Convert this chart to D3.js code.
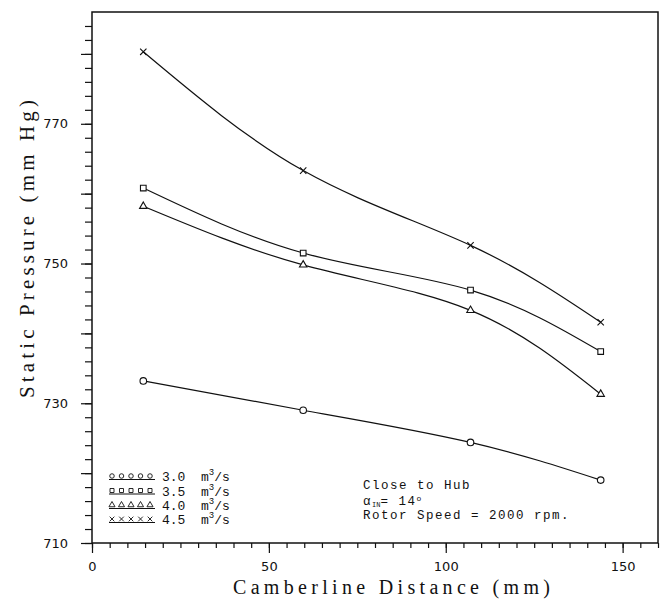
<!DOCTYPE html>
<html>
<head>
<meta charset="utf-8">
<script src="https://cdn.jsdelivr.net/npm/d3@7"></script>
<style>
body { margin: 0; background: #fff; }
</style>
</head>
<body>
<svg id="chart" width="667" height="600"></svg>
<script>
"use strict"

//
// data
//
var distance = [14.5, 59.7, 107.0, 143.8];
var flowLabels = ["3.0", "3.5", "4.0", "4.5"];
var flow30 = [733.2, 729.0, 724.4, 719.0];
var flow35 = [760.8, 751.5, 746.2, 737.4];
var flow40 = [758.2, 749.8, 743.3, 731.3];
var flow45 = [780.3, 763.3, 752.6, 741.6];
var xTickLabels = [0, 50, 100, 150];
var yTickLabels = [710, 730, 750, 770];

var series = [flow30, flow35, flow40, flow45];
var symbolTypes = [d3.symbolCircle, d3.symbolSquare, d3.symbolTriangle, d3.symbolTimes || d3.symbolCross];
var symbolSizes = [34, 32, 24, 28];

//
// layout
//
var plotLeft = 92, plotRight = 658, plotTop = 12, plotBottom = 543;
var svg = d3.select("#chart");

var x = d3.scaleLinear().domain([0, 160]).range([plotLeft, plotRight]);
var y = d3.scaleLinear().domain([710, 786]).range([plotBottom, plotTop]);

var tickFont = "DejaVu Sans";
var textFont = "Liberation Mono";

//
// axes
//
var xMinor = svg.append("g")
	.attr("transform", "translate(0," + plotBottom + ")")
	.call(d3.axisBottom(x).tickValues(d3.range(0, 161, 5)).tickSize(5).tickFormat(""))
	;
var xMajor = svg.append("g")
	.attr("transform", "translate(0," + plotBottom + ")")
	.call(d3.axisBottom(x).tickValues(xTickLabels).tickSize(10).tickPadding(9).tickFormat(d3.format("d")))
	;
var yMinor = svg.append("g")
	.attr("transform", "translate(" + plotLeft + ",0)")
	.call(d3.axisLeft(y).tickValues(d3.range(710, 785, 2)).tickSize(7).tickFormat(""))
	;
var yMajor = svg.append("g")
	.attr("transform", "translate(" + plotLeft + ",0)")
	.call(d3.axisLeft(y).tickValues(d3.range(710, 785, 10)).tickSize(11).tickPadding(13)
		.tickFormat(function(d) { return yTickLabels.indexOf(d) >= 0 ? d : ""; }))
	;
[xMinor, xMajor, yMinor, yMajor].forEach(function(g) {
	g.select(".domain").remove();
	g.selectAll("line").attr("stroke", "#111").attr("stroke-width", 1.2);
	g.selectAll("text")
		.attr("font-family", tickFont)
		.attr("font-size", 13)
		.attr("fill", "#111")
		;
});

// frame
svg.append("rect")
	.attr("x", plotLeft)
	.attr("y", plotTop)
	.attr("width", plotRight - plotLeft)
	.attr("height", plotBottom - plotTop)
	.attr("fill", "none")
	.attr("stroke", "#111")
	.attr("stroke-width", 1.5)
	;

//
// axis titles
//
svg.append("text")
	.attr("x", 233)
	.attr("y", 594)
	.attr("font-family", "Liberation Serif")
	.attr("font-size", 20)
	.attr("textLength", 317)
	.attr("lengthAdjust", "spacing")
	.attr("fill", "#111")
	.text("Camberline Distance (mm)")
	;
svg.append("text")
	.attr("transform", "translate(34,398) rotate(-90)")
	.attr("font-family", "Liberation Serif")
	.attr("font-size", 21)
	.attr("textLength", 298)
	.attr("lengthAdjust", "spacing")
	.attr("fill", "#111")
	.text("Static Pressure (mm Hg)")
	;

//
// curves and markers
//
var line = d3.line()
	.x(function(d, i) { return x(distance[i]); })
	.y(function(d) { return y(d); })
	.curve(d3.curveNatural)
	;
series.forEach(function(values, s) {
	svg.append("path")
		.attr("d", line(values))
		.attr("fill", "none")
		.attr("stroke", "#111")
		.attr("stroke-width", 1.2)
		;
	svg.selectAll(".m" + s)
		.data(values)
		.enter().append("path")
		.attr("class", "m" + s)
		.attr("transform", function(d, i) { return "translate(" + x(distance[i]) + "," + y(d) + ")"; })
		.attr("d", d3.symbol().type(symbolTypes[s]).size(symbolSizes[s]))
		.attr("fill", "#fff")
		.attr("stroke", "#111")
		.attr("stroke-width", 1.1)
		;
});

//
// legend
//
var legendY = [476, 490.5, 505, 519];
flowLabels.forEach(function(lab, s) {
	var ly = legendY[s];
	svg.append("line")
		.attr("x1", 109).attr("x2", 155)
		.attr("y1", ly + 3.5).attr("y2", ly + 3.5)
		.attr("stroke", "#111")
		.attr("stroke-width", 1)
		;
	for (var k = 0; k < 5; k++) {
		svg.append("path")
			.attr("transform", "translate(" + (112 + k * 9.5) + "," + ly + ")")
			.attr("d", d3.symbol().type(symbolTypes[s]).size(16)())
			.attr("fill", "#fff")
			.attr("stroke", "#111")
			.attr("stroke-width", 0.9)
			;
	}
	var t = svg.append("text")
		.attr("x", 162)
		.attr("y", ly + 5)
		.attr("font-family", textFont)
		.attr("font-size", 13)
		.attr("fill", "#111")
		.attr("xml:space", "preserve")
		;
	t.append("tspan").text(lab + "  m");
	t.append("tspan").attr("dy", -6).attr("font-size", 9).text("3");
	t.append("tspan").attr("dy", 6).text("/s");
});

//
// annotation
//
var note = svg.append("g")
	.attr("font-family", textFont)
	.attr("font-size", 12.5)
	.attr("letter-spacing", 1.5)
	.attr("fill", "#111")
	;
note.append("text").attr("x", 363).attr("y", 489).text("Close to Hub");
var a = note.append("text").attr("x", 363).attr("y", 505).attr("xml:space", "preserve");
a.append("tspan").text("\u03b1");
a.append("tspan").attr("dy", 2).attr("font-size", 7).attr("letter-spacing", 0).text("IN");
a.append("tspan").attr("dy", -2).text("= 14");
a.append("tspan").attr("dy", -4).attr("font-size", 8).attr("letter-spacing", 0).text("o");
note.append("text").attr("x", 363).attr("y", 519).text("Rotor Speed = 2000 rpm.");
</script>
</body>
</html>
